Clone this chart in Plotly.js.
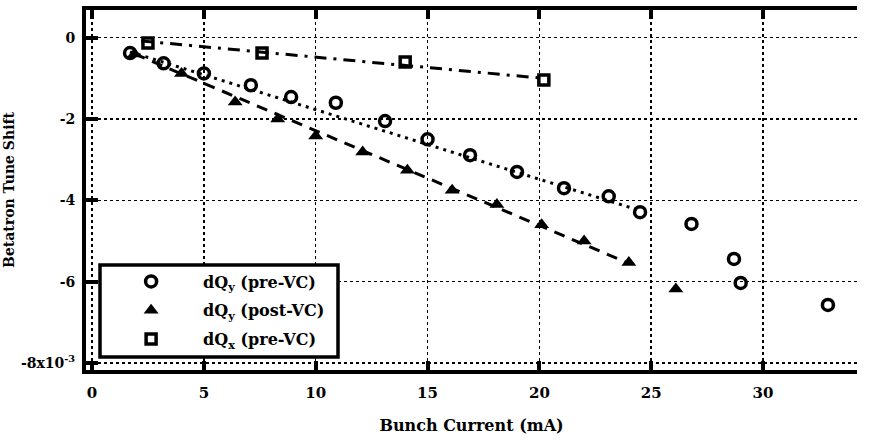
<!DOCTYPE html>
<html>
<head>
<meta charset="utf-8">
<script src="https://cdn.plot.ly/plotly-3.0.1.min.js"></script>
<style>html,body{margin:0;padding:0;background:#fff;}#chart{width:869px;height:443px;}</style>
</head>
<body>
<div id="chart"></div>
<script>
// dQy (pre-VC) — circles
const preY_x = [1.7, 3.2, 5.0, 7.1, 8.9, 10.9, 13.1, 15.0, 16.9, 19.0, 21.1, 23.1, 24.5, 26.8, 28.7, 29.0, 32.9];
const preY_y = [-0.38, -0.63, -0.88, -1.17, -1.46, -1.6, -2.05, -2.5, -2.89, -3.3, -3.7, -3.9, -4.29, -4.58, -5.44, -6.03, -6.57];
// dQy (post-VC) — triangles
const postY_x = [1.9, 4.0, 6.4, 8.3, 10.0, 12.1, 14.1, 16.1, 18.1, 20.1, 22.0, 24.0, 26.1];
const postY_y = [-0.4, -0.88, -1.58, -2.0, -2.42, -2.81, -3.26, -3.75, -4.1, -4.6, -5.0, -5.53, -6.18];
// dQx (pre-VC) — squares
const preX_x = [2.5, 7.6, 14.0, 20.2];
const preX_y = [-0.13, -0.38, -0.6, -1.04];
// fitted lines (end points)
const fitPreY_x = [1.7, 24.5], fitPreY_y = [-0.35, -4.25];
const fitPostY_x = [1.9, 24.0], fitPostY_y = [-0.4, -5.55];
const fitPreX_x = [2.2, 20.2], fitPreX_y = [-0.08, -1.0];

const xTicks = [0, 5, 10, 15, 20, 25, 30];
const yTicks = [-8, -6, -4, -2, 0];
const yTickText = ["-8x10<sup>-3</sup>", "-6", "-4", "-2", "0"];
const names = ["dQ<sub>y</sub> (pre-VC)", "dQ<sub>y</sub> (post-VC)", "dQ<sub>x</sub> (pre-VC)"];

const FONT = "DejaVu Serif, Liberation Serif, serif";

const traces = [
  {x: fitPreY_x, y: fitPreY_y, mode: "lines", line: {color: "#000", width: 3, dash: "3px,5px"}, showlegend: false, hoverinfo: "skip"},
  {x: fitPostY_x, y: fitPostY_y, mode: "lines", line: {color: "#000", width: 3, dash: "11px,8px"}, showlegend: false, hoverinfo: "skip"},
  {x: fitPreX_x, y: fitPreX_y, mode: "lines", line: {color: "#000", width: 3, dash: "12px,7px,3px,7px"}, showlegend: false, hoverinfo: "skip"},
  {x: preY_x, y: preY_y, mode: "markers", name: names[0], legendgroup: "a",
   marker: {symbol: "circle-open", size: 11, color: "#000", line: {width: 3.5, color: "#000"}}},
  {x: postY_x, y: postY_y, mode: "markers", name: names[1], legendgroup: "b",
   marker: {symbol: "triangle-up", size: 13, color: "#000"}},
  {x: preX_x, y: preX_y, mode: "markers", name: names[2], legendgroup: "c",
   marker: {symbol: "square-open", size: 10, color: "#000", line: {width: 3.5, color: "#000"}}}
];

const layout = {
  width: 869, height: 443,
  margin: {l: 86, r: 12, t: 10, b: 73},
  paper_bgcolor: "#fff", plot_bgcolor: "#fff",
  font: {family: FONT, color: "#000", size: 14, weight: "bold"},
  showlegend: true,
  legend: {x: 0.017, y: 0.293, xanchor: "left", yanchor: "top", bgcolor: "rgba(0,0,0,0)",
           borderwidth: 0, font: {family: FONT, size: 16, weight: "bold"},
           traceorder: "grouped", tracegroupgap: 5, itemwidth: 94},
  xaxis: {range: [-0.27, 34.2], tickvals: xTicks, ticktext: xTicks.map(String),
          showgrid: true, gridcolor: "#000", griddash: "dot", gridwidth: 1.5,
          zeroline: false, showline: true, linecolor: "#000", linewidth: 4, mirror: "ticks",
          ticks: "inside", ticklen: 9, tickwidth: 4, tickcolor: "#000",
          tickfont: {family: FONT, size: 15, weight: "bold"}, ticklabelstandoff: 6,
          title: {text: "Bunch Current (mA)", font: {family: FONT, size: 16, weight: "bold"}, standoff: 20}},
  yaxis: {range: [-8.17, 0.68], tickvals: yTicks, ticktext: yTickText,
          showgrid: true, gridcolor: "#000", griddash: "dot", gridwidth: 1.5,
          zeroline: false, showline: true, linecolor: "#000", linewidth: 4, mirror: false,
          ticks: "inside", ticklen: 12, tickwidth: 4, tickcolor: "#000",
          tickfont: {family: FONT, size: 14, weight: "bold"}, ticklabelstandoff: 4,
          title: {text: "Betatron Tune Shift", font: {family: FONT, size: 14, weight: "bold"}, standoff: 4}},
  shapes: [
    {type: "rect", xref: "paper", yref: "paper", layer: "above",
     x0: (100 - 86) / 771, x1: (338 - 86) / 771, y0: (370 - 357) / 360, y1: (370 - 265) / 360,
     fillcolor: "#fff", line: {color: "#000", width: 3.5}}
  ]
};

Plotly.newPlot("chart", traces, layout, {displayModeBar: false, staticPlot: true});
</script>
</body>
</html>
